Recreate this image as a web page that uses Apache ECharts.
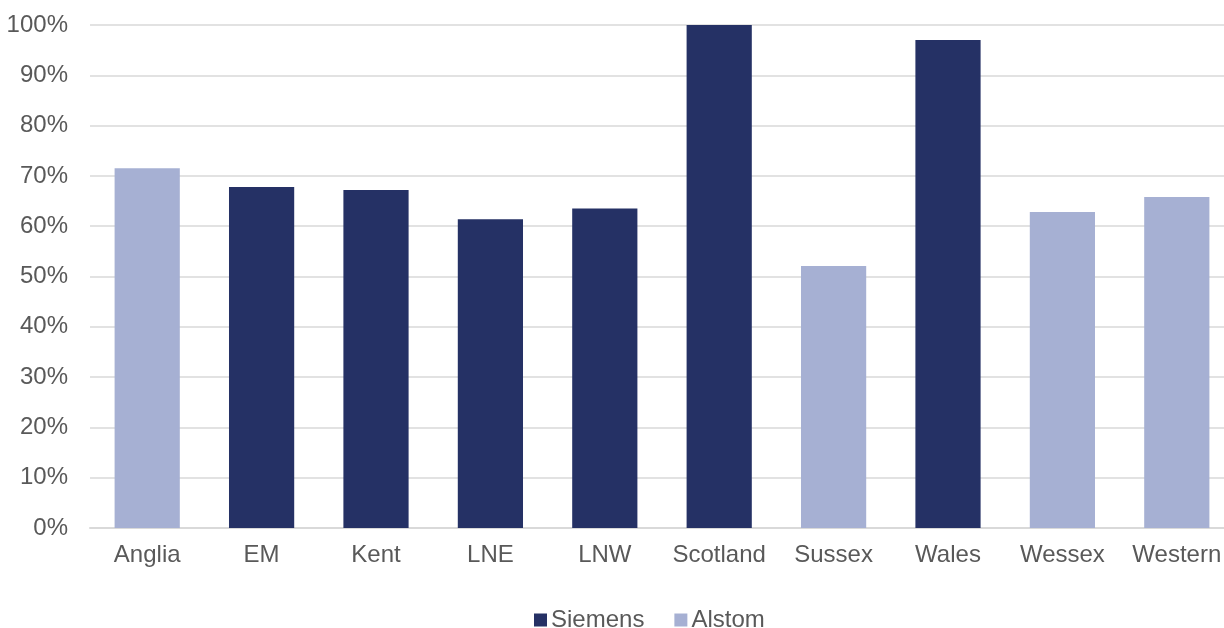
<!DOCTYPE html>
<html><head><meta charset="utf-8">
<script src="https://cdn.jsdelivr.net/npm/echarts@6/dist/echarts.min.js"></script>
<style>html,body{margin:0;padding:0;background:#fff;overflow:hidden;width:1224px;height:628px}#c{width:1234px;height:628px}</style>
</head><body><div id="c"></div>
<script>
const categories = ['Anglia','EM','Kent','LNE','LNW','Scotland','Sussex','Wales','Wessex','Western'];
const siemens = [null, 67.8, 67.2, 61.4, 63.5, 100, null, 97.0, null, null];
const alstom  = [71.5, null, null, null, null, null, 52.1, null, 62.8, 65.8];
const yTicks = [0,10,20,30,40,50,60,70,80,90,100];

const font = 'Liberation Sans, Arial, sans-serif';
const chart = echarts.init(document.getElementById('c'));
chart.setOption({
  animation: false,
  grid: {left: 90, right: 0, top: 25, bottom: 100},
  legend: {
    top: 603, left: 529, itemWidth: 13, itemHeight: 13, itemGap: 30,
    icon: 'rect',
    textStyle: {fontFamily: font, fontSize: 24, color: '#595959', padding: [0,0,0,-1]},
    data: ['Siemens','Alstom']
  },
  xAxis: {
    type: 'category', data: categories,
    axisLine: {lineStyle: {color: '#d9d9d9', width: 2}},
    axisTick: {show: false},
    axisLabel: {interval: 0, fontFamily: font, fontSize: 24, color: '#595959', margin: 15}
  },
  yAxis: {
    type: 'value', min: yTicks[0], max: yTicks[yTicks.length-1], interval: 10,
    axisLine: {show: false}, axisTick: {show: false},
    axisLabel: {fontFamily: font, fontSize: 24, color: '#595959', margin: 22, formatter: v => v + '%'},
    splitLine: {lineStyle: {color: '#d9d9d9', width: 1.5}}
  },
  series: [
    {name: 'Siemens', type: 'bar', stack: 't', data: siemens, barWidth: '57%', itemStyle: {color: '#253165'}},
    {name: 'Alstom', type: 'bar', stack: 't', data: alstom, barWidth: '57%', itemStyle: {color: '#A6B0D3'}}
  ]
});
</script></body></html>
